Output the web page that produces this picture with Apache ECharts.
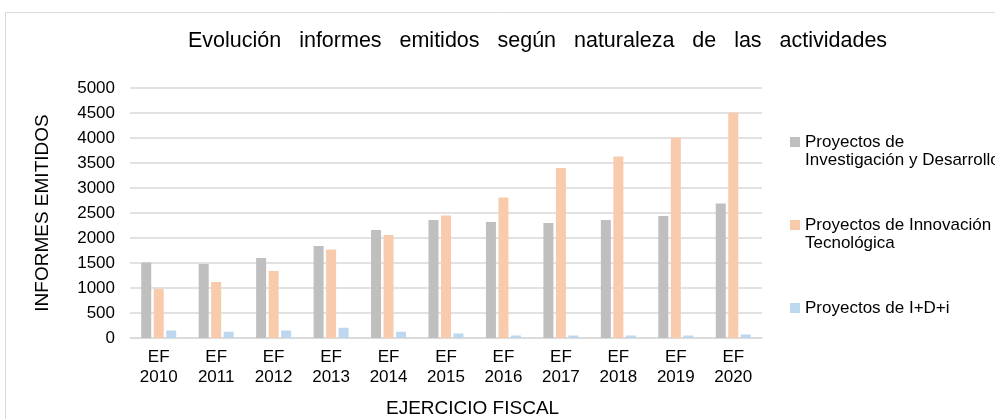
<!DOCTYPE html>
<html>
<head>
<meta charset="utf-8">
<script src="https://cdn.jsdelivr.net/npm/echarts@6/dist/echarts.min.js"></script>
<style>
  html, body { margin: 0; padding: 0; background: #fff; }
  #chart { width: 995px; height: 419px; }
</style>
</head>
<body>
<div id="chart"></div>
<script>
var categories = ["EF\n2010", "EF\n2011", "EF\n2012", "EF\n2013", "EF\n2014", "EF\n2015",
  "EF\n2016", "EF\n2017", "EF\n2018", "EF\n2019", "EF\n2020"];
var seriesNames = ["Proyectos de\nInvestigación y Desarrollo", "Proyectos de Innovación\nTecnológica", "Proyectos de I+D+i"];
var idValues = [1510, 1480, 1600, 1840, 2160, 2360, 2320, 2300, 2360, 2440, 2690];
var itValues = [985, 1120, 1340, 1770, 2060, 2450, 2810, 3400, 3630, 4010, 4510];
var idiValues = [150, 125, 150, 205, 125, 90, 50, 50, 50, 50, 70];
var yTicks = { min: 0, max: 5000, interval: 500 };

var myChart = echarts.init(document.getElementById("chart"));
var font = "Liberation Sans, Arial, sans-serif";
var colors = ["#bfbfbf", "#f8cbad", "#bdd7ee"];

var option = {
  animation: false,
  textStyle: { fontFamily: font },
  title: {
    text: "Evolución   informes   emitidos   según   naturaleza   de   las   actividades",
    left: 183,
    top: 25,
    textStyle: { fontSize: 21.5, fontWeight: "normal", color: "#000", fontFamily: font },
  },
  graphic: [
    {
      type: "rect",
      shape: { x: 5.5, y: 12.5, width: 1000, height: 420 },
      style: { fill: "none", stroke: "#d9d9d9", lineWidth: 1 },
      silent: true,
    },
    {
      type: "text",
      left: 386,
      top: 399,
      style: { text: "EJERCICIO FISCAL", font: "19px " + font, fill: "#000" },
    },
  ],
  legend: {
    orient: "vertical",
    left: 790,
    top: 115,
    padding: 0,
    itemWidth: 10,
    itemHeight: 10,
    itemGap: 29,
    icon: "rect",
    // blank lines keep the marker level with the first text line
    formatter: function (name) {
      return name.indexOf("\n") >= 0 ? "\n" + name : "\n" + name + "\n";
    },
    textStyle: { fontSize: 17, color: "#000", lineHeight: 18 },
    data: seriesNames,
  },
  grid: { left: 130, right: 233, top: 88, bottom: 81 },
  xAxis: {
    type: "category",
    data: categories,
    axisLine: { lineStyle: { color: "#d9d9d9", width: 1.5 } },
    axisTick: { show: false },
    axisLabel: { color: "#000", fontSize: 17, lineHeight: 20, margin: 9, interval: 0 },
  },
  yAxis: {
    type: "value",
    min: yTicks.min,
    max: yTicks.max,
    interval: yTicks.interval,
    name: "INFORMES EMITIDOS",
    nameLocation: "middle",
    nameGap: 78,
    nameTextStyle: { color: "#000", fontSize: 19 },
    axisLine: { show: false },
    axisTick: { show: false },
    axisLabel: {
      color: "#000",
      fontSize: 17,
      margin: 15,
      formatter: function (v) { return String(v); },
    },
    splitLine: { lineStyle: { color: "#d9d9d9", width: 1.5 } },
  },
  series: [
    { name: seriesNames[0], type: "bar", data: idValues, barWidth: 10, barGap: "25%", itemStyle: { color: colors[0] } },
    { name: seriesNames[1], type: "bar", data: itValues, barWidth: 10, barGap: "25%", itemStyle: { color: colors[1] } },
    { name: seriesNames[2], type: "bar", data: idiValues, barWidth: 10, barGap: "25%", itemStyle: { color: colors[2] } },
  ],
};
myChart.setOption(option);
</script>
</body>
</html>
